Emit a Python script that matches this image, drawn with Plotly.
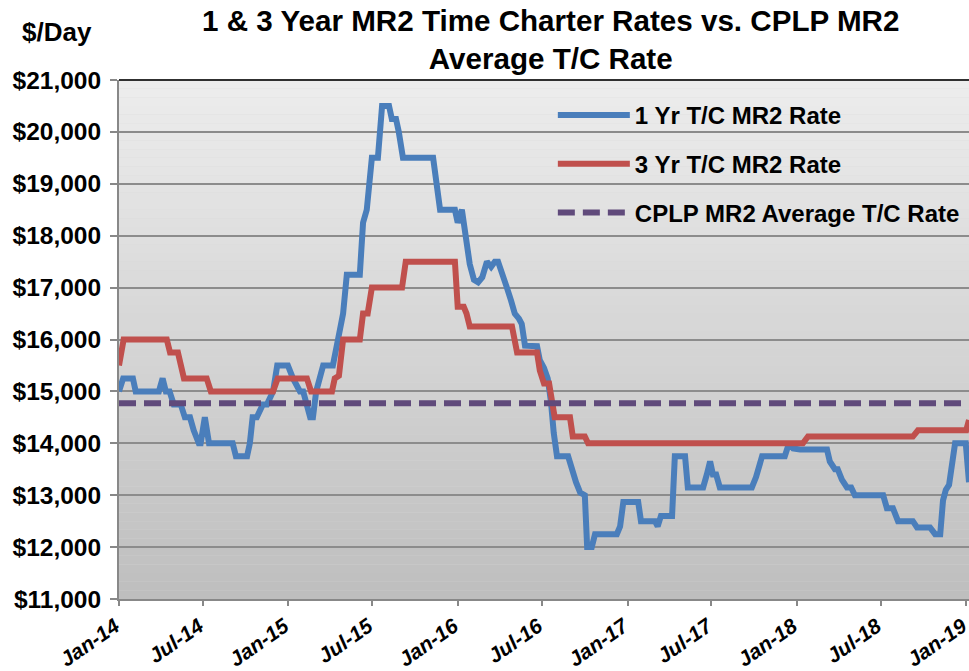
import plotly.graph_objects as go

# ---- Data ----
yr1_dates = ["2014-01-01","2014-01-10","2014-01-31","2014-02-06","2014-03-28","2014-04-05","2014-04-12","2014-04-20",
             "2014-04-29","2014-05-14","2014-05-23","2014-06-03","2014-06-11","2014-06-22","2014-06-26","2014-07-05",
             "2014-07-14","2014-09-03","2014-09-10","2014-10-04","2014-10-10","2014-10-16","2014-10-25","2014-11-07",
             "2014-11-16","2014-11-29","2014-12-08","2014-12-31","2015-01-11","2015-01-26","2015-02-02","2015-02-17",
             "2015-02-23","2015-03-02","2015-03-17","2015-04-01","2015-04-07","2015-04-18","2015-04-29","2015-05-07",
             "2015-06-04","2015-06-11","2015-06-19","2015-06-30","2015-07-13","2015-07-22","2015-08-06","2015-08-12",
             "2015-08-21","2015-08-27","2015-09-05","2015-11-09","2015-11-15","2015-11-24","2015-12-26","2016-01-01",
             "2016-01-10","2016-01-17","2016-01-27","2016-02-05","2016-02-14","2016-02-23","2016-03-04","2016-03-13",
             "2016-03-21","2016-03-28","2016-04-05","2016-04-16","2016-04-25","2016-05-03","2016-05-12","2016-05-18",
             "2016-05-25","2016-06-20","2016-06-26","2016-07-05","2016-07-13","2016-07-20","2016-07-26","2016-08-02",
             "2016-08-26","2016-09-03","2016-09-12","2016-09-21","2016-10-01","2016-10-06","2016-10-16","2016-10-23",
             "2016-12-09","2016-12-16","2016-12-23","2017-01-24","2017-01-30","2017-03-01","2017-03-07","2017-03-14",
             "2017-04-07","2017-04-13","2017-05-05","2017-05-11","2017-06-13","2017-06-21","2017-06-28","2017-07-04",
             "2017-07-11","2017-07-19","2017-09-26","2017-10-05","2017-10-18","2017-12-06","2017-12-15","2017-12-24",
             "2018-01-08","2018-03-07","2018-03-13","2018-03-24","2018-03-30","2018-04-08","2018-04-19","2018-04-28",
             "2018-05-06","2018-07-06","2018-07-14","2018-07-27","2018-08-07","2018-09-08","2018-09-17","2018-10-15",
             "2018-10-26","2018-11-06","2018-11-12","2018-11-18","2018-11-25","2018-12-08","2018-12-31","2019-01-07"]
yr1_rates = [15000,15250,15250,15000,15000,15250,15000,15000,
             14750,14750,14500,14500,14250,14000,14000,14500,
             14000,14000,13750,13750,14000,14500,14500,14750,
             14750,15000,15500,15500,15250,15000,15000,14500,
             14500,15000,15500,15500,15500,16000,16500,17250,
             17250,18250,18500,19500,19500,20500,20500,20250,
             20250,20000,19500,19500,19000,18500,18500,18250,
             18500,18000,17450,17150,17100,17200,17500,17400,
             17500,17500,17250,17000,16750,16500,16400,16300,
             15880,15870,15600,15450,15250,14800,14200,13750,
             13750,13500,13250,13050,13000,12000,12000,12250,
             12250,12400,12870,12870,12500,12500,12400,12600,
             12600,13750,13750,13150,13150,13400,13650,13400,
             13400,13150,13150,13350,13750,13750,14000,13900,
             13880,13880,13650,13500,13500,13300,13150,13150,
             13000,13000,12750,12750,12500,12500,12380,12380,
             12250,12250,12900,13100,13200,14000,14000,13250]

yr3_dates = ["2014-01-01","2014-01-11","2014-04-14","2014-04-21","2014-05-08","2014-05-21","2014-07-09","2014-07-18",
             "2014-11-29","2014-12-09","2015-02-10","2015-02-19","2015-04-05","2015-04-11","2015-04-20","2015-04-29",
             "2015-06-04","2015-06-11","2015-06-21","2015-06-30","2015-09-03","2015-09-11","2015-12-26","2016-01-01",
             "2016-01-14","2016-01-20","2016-01-27","2016-04-27","2016-05-08","2016-06-20","2016-06-26","2016-07-05",
             "2016-07-16","2016-07-28","2016-08-30","2016-09-05","2016-10-01","2016-10-08","2018-01-14","2018-01-25",
             "2018-09-08","2018-09-19","2019-01-01","2019-01-07"]
yr3_rates = [15500,16000,16000,15750,15750,15250,15250,15000,
             15000,15250,15250,15000,15000,15250,15300,16000,
             16000,16500,16500,17000,17000,17500,17500,16630,
             16630,16500,16250,16250,15750,15750,15400,15150,
             15150,14500,14500,14130,14130,14000,14000,14130,
             14130,14250,14250,14450]

cplp_dates = ["2014-01-01", "2019-01-07"]
cplp_rates = [14770, 14770]

names = ["1 Yr T/C MR2 Rate", "3 Yr T/C MR2 Rate", "CPLP MR2 Average T/C Rate"]
title_text = "1 & 3 Year MR2 Time Charter Rates vs. CPLP MR2<br>Average T/C Rate"
unit_text = "$/Day"

# ---- Figure ----
fig = go.Figure()
fig.add_trace(go.Scatter(x=yr1_dates, y=yr1_rates, mode="lines", name=names[0], legendgroup="a",
                         line=dict(color="#4a7ebb", width=6)))
fig.add_trace(go.Scatter(x=yr3_dates, y=yr3_rates, mode="lines", name=names[1], legendgroup="b",
                         line=dict(color="#c0504d", width=6)))
fig.add_trace(go.Scatter(x=cplp_dates, y=cplp_rates, mode="lines", name=names[2], legendgroup="c",
                         line=dict(color="#604a7b", width=6, dash="17px,8px")))

# gradient plot background
shapes = []
N = 60
top = (237, 237, 237)
bot = (190, 190, 190)
for i in range(N):
    t = (i + 0.5) / N
    c = tuple(int(round(bot[k] + (top[k] - bot[k]) * t)) for k in range(3))
    shapes.append(dict(type="rect", xref="paper", yref="paper", x0=0, x1=1,
                       y0=i / N, y1=(i + 1) / N, fillcolor="rgb(%d,%d,%d)" % c,
                       line=dict(width=0), layer="below"))
shapes.append(dict(type="line", xref="paper", yref="paper", x0=0, x1=1, y0=1, y1=1,
                   line=dict(color="#303030", width=2), layer="above"))
fig.update_layout(shapes=shapes)

font_family = "Liberation Sans, Arial, sans-serif"
fig.update_layout(
    width=969, height=671,
    margin=dict(l=119, r=0, t=80, b=72, autoexpand=False),
    paper_bgcolor="white",
    plot_bgcolor="#d6d6d6",
    font=dict(family=font_family, color="black"),
    showlegend=True,
    legend=dict(x=0.5104, xanchor="left", y=0.975, yanchor="top",
                bgcolor="rgba(0,0,0,0)", borderwidth=0,
                font=dict(size=24, family=font_family, weight="bold", color="black"),
                traceorder="grouped", tracegroupgap=14.5, itemwidth=72),
    annotations=[
        dict(text=title_text, xref="paper", yref="paper", x=0.508, y=1.151,
             xanchor="center", yanchor="top", showarrow=False, align="center",
             font=dict(size=29.6, family=font_family, weight="bold", color="black")),
        dict(text=unit_text, xref="paper", yref="paper", x=-0.073, y=1.0925,
             xanchor="center", yanchor="middle", showarrow=False,
             font=dict(size=26, family=font_family, weight="bold", color="black")),
    ],
)
fig.update_xaxes(
    type="date", range=["2014-01-01", "2019-01-07"], automargin=False,
    dtick="M6", tick0="2014-01-01", tickformat="%b-%y", tickangle=-35,
    ticklabeloverflow="allow", ticklabelshift=-4,
    ticks="outside", ticklen=5, tickcolor="#888888", tickwidth=1.5,
    showline=True, linecolor="#888888", linewidth=2, showgrid=False, zeroline=False,
    tickfont=dict(size=21, family=font_family, weight="bold", style="italic", color="black"),
)
fig.update_yaxes(
    range=[11000, 21000], dtick=1000, tickformat="$,.0f", automargin=False,
    ticks="outside", ticklen=7, tickcolor="#888888", tickwidth=1.5, ticklabelstandoff=4,
    showline=True, linecolor="#888888", linewidth=2,
    showgrid=True, gridcolor="#8c8c8c", gridwidth=2, zeroline=False,
    tickfont=dict(size=24.5, family=font_family, weight="bold", color="black"),
)

fig.write_html("out.html", config={"displayModeBar": False},
               post_script="document.body.style.margin='0';document.body.style.overflow='hidden';")
